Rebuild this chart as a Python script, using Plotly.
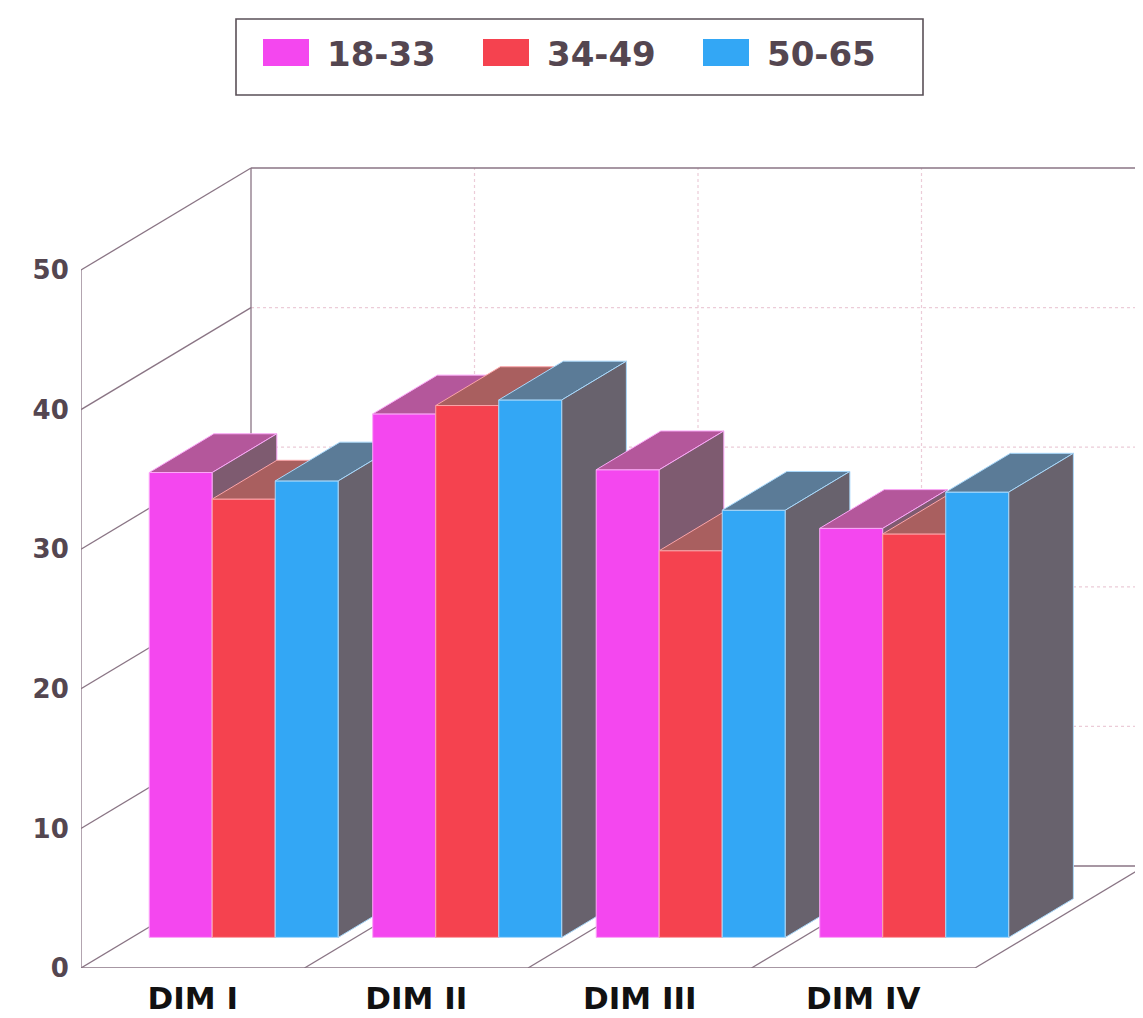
import plotly.graph_objects as go

# ---------------- data ----------------
CATEGORIES = ["DIM I", "DIM II", "DIM III", "DIM IV"]
SERIES = ["18-33", "34-49", "50-65"]
V_18_33 = [33.3, 37.5, 33.5, 29.3]
V_34_49 = [31.4, 38.1, 27.7, 28.9]
V_50_65 = [32.7, 38.5, 30.6, 31.9]
Y_TICKS = [0, 10, 20, 30, 40, 50]

VALUES = [V_18_33, V_34_49, V_50_65]

# ---------------- styling / geometry ----------------
OFF = 8                    # page body margin of the html page
W, H = 1143 - OFF, 1018 - OFF
ML, MT = 81 - OFF, 130 - OFF
MR = 0
MB = H - (968 - OFF)
PX_PER_CAT = 223.5        # pixels per category along x
PX_PER_UNIT = 13.96       # pixels per value unit along y
PLOT_W = W - ML - MR
PLOT_H = H - MT - MB
XMAX = PLOT_W / PX_PER_CAT
YMAX = PLOT_H / PX_PER_UNIT
YTOP = 50

DX = 170 / PX_PER_CAT     # full depth offset (x, category units)
DY = 102 / PX_PER_UNIT    # full depth offset (y, value units)
D0, D1 = 0.30, 0.68       # bar depth span
BAR_W = 0.282
PAD = (1 - 3 * BAR_W) / 2

FRONT = ["#F447EF", "#F5424F", "#33A7F5"]
TOP = ["#B4579B", "#A95F5F", "#5B7B97"]
SIDE = ["#7E5B70", "#85525A", "#68626D"]
EDGE = ["#FBA8F8", "#FBA4A8", "#A8D8FB"]
FRAME = "#8a7585"
FAINT = "#ecccd8"
TEXT = "#544650"

fig = go.Figure()


def add_lines(segs, color, width, dash=None):
    xs, ys = [], []
    for (xa, ya), (xb, yb) in segs:
        xs += [xa, xb, None]
        ys += [ya, yb, None]
    fig.add_trace(go.Scatter(x=xs, y=ys, mode="lines",
                             line=dict(color=color, width=width, dash=dash),
                             hoverinfo="skip", showlegend=False))


n = len(CATEGORIES)
# faint back-wall gridlines
faint = []
for v in Y_TICKS[1:-1]:
    faint.append(((DX, v + DY), (n + DX, v + DY)))
for k in range(1, n):
    faint.append(((k + DX, DY), (k + DX, YTOP + DY)))
add_lines(faint, FAINT, 1.2, "dot")

# frame lines
frame = [((0, 0), (0, YTOP)), ((DX, DY), (DX, YTOP + DY)),
         ((DX, YTOP + DY), (n + DX, YTOP + DY)),
         ((0, 0), (n, 0)), ((DX, DY), (n + DX, DY))]
for v in Y_TICKS:
    frame.append(((0, v), (DX, v + DY)))
for k in range(1, n + 1):
    frame.append(((k, 0), (k + DX, DY)))
add_lines(frame, FRAME, 1.3)


def poly(pts, fill, edge):
    xs = [p[0] for p in pts] + [pts[0][0]]
    ys = [p[1] for p in pts] + [pts[0][1]]
    fig.add_trace(go.Scatter(x=xs, y=ys, mode="lines", fill="toself",
                             fillcolor=fill, line=dict(color=edge, width=1),
                             hoverinfo="skip", showlegend=False))


ddx = (D1 - D0) * DX
ddy = (D1 - D0) * DY
for i in range(n):
    for j, vals in enumerate(VALUES):
        x0 = i + PAD + j * BAR_W + D0 * DX
        x1 = x0 + BAR_W
        yb = D0 * DY
        yt = vals[i] + D0 * DY
        poly([(x0, yb), (x1, yb), (x1, yt), (x0, yt)], FRONT[j], EDGE[j])
        poly([(x0, yt), (x1, yt), (x1 + ddx, yt + ddy), (x0 + ddx, yt + ddy)], TOP[j], EDGE[j])
        poly([(x1, yb), (x1 + ddx, yb + ddy), (x1 + ddx, yt + ddy), (x1, yt)], SIDE[j], EDGE[j])


# ---------------- manual legend (positions in page pixels) ----------------
def px(xp):
    return (xp - OFF - ML) / PLOT_W


def py(yp):
    return (H - MB - (yp - OFF)) / PLOT_H


shapes = [dict(type="rect", xref="paper", yref="paper",
               x0=px(236), x1=px(923), y0=py(95), y1=py(19),
               line=dict(color="#5a5058", width=1.6), fillcolor="white")]
annotations = []
sw_left = [263, 483, 703]
for j, name in enumerate(SERIES):
    shapes.append(dict(type="rect", xref="paper", yref="paper",
                       x0=px(sw_left[j]), x1=px(sw_left[j] + 46),
                       y0=py(66), y1=py(39),
                       line=dict(width=0), fillcolor=FRONT[j]))
    annotations.append(dict(xref="paper", yref="paper", x=px(sw_left[j] + 62), y=py(54),
                            text=name, showarrow=False, xanchor="left", yanchor="middle",
                            font=dict(family="DejaVu Sans", size=34, color=TEXT, weight="bold")))

fig.update_layout(
    width=W, height=H, autosize=False,
    margin=dict(l=ML, r=MR, t=MT, b=MB, pad=0, autoexpand=False),
    paper_bgcolor="white", plot_bgcolor="white",
    showlegend=False,
    shapes=shapes, annotations=annotations,
    xaxis=dict(range=[0, XMAX], showgrid=False, zeroline=False, showline=False,
               tickmode="array", tickvals=[i + 0.5 for i in range(n)], ticktext=CATEGORIES,
               ticks="outside", ticklen=3, tickcolor="rgba(0,0,0,0)",
               tickfont=dict(family="DejaVu Sans", size=31, color="#111111", weight="bold"),
               fixedrange=True),
    yaxis=dict(range=[0, YMAX], showgrid=False, zeroline=False, showline=False,
               tickmode="array", tickvals=Y_TICKS, ticktext=[str(t) for t in Y_TICKS],
               ticks="outside", ticklen=6, tickcolor="rgba(0,0,0,0)",
               tickfont=dict(family="DejaVu Sans", size=26, color=TEXT, weight="bold"),
               fixedrange=True),
)

fig.write_html("out.html")
